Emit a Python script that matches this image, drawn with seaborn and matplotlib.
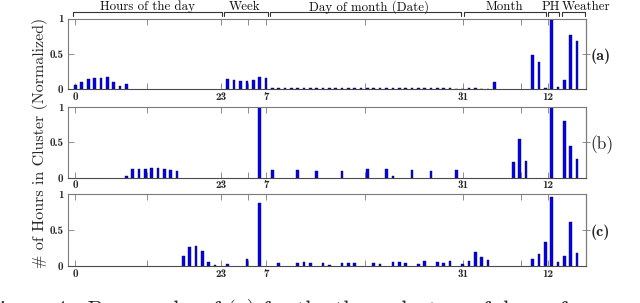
import numpy as np
import pandas as pd
import matplotlib
matplotlib.use("Agg")
import matplotlib.pyplot as plt
import seaborn as sns
from matplotlib.transforms import blended_transform_factory

# ---------------- data (normalized # of hours per feature value) ----------------
groups = ["Hours of the day", "Week", "Day of month (Date)", "Month", "PH", "Weather"]
group_sizes = [24, 7, 31, 12, 2, 4]

hours_a = [0.06, 0.10, 0.145, 0.155, 0.165, 0.17, 0.10, 0.04, 0.075, 0, 0, 0,
           0, 0, 0, 0, 0, 0, 0, 0, 0, 0, 0, 0]
week_a = [0.15, 0.13, 0.12, 0.12, 0.13, 0.17, 0.165]
date_a = [0.015, 0.015, 0.015, 0.015, 0.015, 0.015, 0.015, 0.02, 0.02, 0.015,
          0.02, 0.025, 0.02, 0.02, 0.025, 0.02, 0.02, 0.025, 0.015, 0.02,
          0.02, 0.015, 0.02, 0.015, 0.02, 0.02, 0.015, 0.02, 0.015, 0.005, 0.005]
month_a = [0.015, 0.015, 0.01, 0.008, 0.10, 0, 0, 0, 0, 0, 0.48, 0.39]
ph_a = [0.02, 1.0]
weather_a = [0.03, 0.135, 0.77, 0.68]

hours_b = [0, 0, 0, 0, 0, 0, 0, 0, 0.025, 0.12, 0.12, 0.12,
           0.13, 0.135, 0.12, 0.11, 0.095, 0, 0, 0, 0, 0, 0, 0]
week_b = [0, 0, 0, 0, 0, 1.0, 0]
date_b = [0.11, 0, 0, 0, 0.11, 0, 0, 0.095, 0, 0,
          0, 0.09, 0, 0, 0, 0.12, 0, 0, 0.12, 0.025,
          0, 0, 0.11, 0, 0, 0.09, 0, 0, 0, 0.11, 0]
month_b = [0, 0, 0, 0, 0, 0, 0, 0.225, 0.55, 0.235, 0, 0]
ph_b = [0, 1.0]
weather_b = [0, 0.80, 0.45, 0.26]

hours_c = [0, 0, 0, 0, 0, 0, 0, 0, 0, 0, 0, 0,
           0, 0, 0, 0, 0, 0.14, 0.26, 0.28, 0.215, 0.06, 0.01, 0]
week_c = [0.025, 0, 0, 0.10, 0, 0.87, 0]
date_c = [0, 0.045, 0, 0, 0.045, 0.05, 0.035, 0, 0.035, 0.02,
          0, 0.035, 0.035, 0.035, 0, 0, 0.035, 0.025, 0, 0.055,
          0.05, 0.035, 0, 0.025, 0.065, 0, 0.05, 0.04, 0.065, 0, 0.03]
month_c = [0.065, 0.2, 0.12, 0.085, 0, 0, 0, 0, 0, 0, 0.095, 0.165]
ph_c = [0.33, 0.96]
weather_c = [0.05, 0.145, 0.615, 0.18]

panels = {
    "(a)": [hours_a, week_a, date_a, month_a, ph_a, weather_a],
    "(b)": [hours_b, week_b, date_b, month_b, ph_b, weather_b],
    "(c)": [hours_c, week_c, date_c, month_c, ph_c, weather_c],
}

xtick_labels = ["0", "23", "7", "31", "12"]
ytick_labels = ["0", "0.5", "1"]

# ---------------- figure ----------------
sns.set_theme(style="white")
plt.rcParams["font.family"] = ["cmr10", "DejaVu Serif"]
plt.rcParams["axes.unicode_minus"] = False
plt.rcParams["axes.formatter.use_mathtext"] = True

W, H = 640, 303
fig = plt.figure(figsize=(W / 100, H / 100), dpi=100)

left, right = 68.3 / W, 585.7 / W
panel_px = [(18.5, 89.3), (106.7, 177.7), (194.0, 266.0)]
XLIM = (-1.13, 80.38)
major_ticks = [0, 23, 30, 61, 74.4]
minor_ticks = [11.2, 27.2, 45.6, 70.2]
frame_col = "#7a7a7a"

axes = []
for (name, vals), (top_px, bot_px) in zip(panels.items(), panel_px):
    ax = fig.add_axes([left, 1 - bot_px / H, right - left, (bot_px - top_px) / H])
    values = np.concatenate([np.asarray(v, dtype=float) for v in vals])
    df = pd.DataFrame({"pos": np.arange(len(values)), "value": values})
    df = df[df["value"] > 0]
    sns.barplot(data=df, x="pos", y="value", native_scale=True, width=0.42,
                color="#0000ff", saturation=1, edgecolor="#101010", linewidth=0.3,
                errorbar=None, ax=ax)
    ax.set_xlabel("")
    ax.set_ylabel("")
    ax.set_xlim(*XLIM)
    ax.set_ylim(0, 1)
    ax.set_xticks(major_ticks, labels=xtick_labels, fontfamily="cmb10", fontsize=8)
    ax.set_xticks(minor_ticks, minor=True)
    ax.tick_params(axis="x", which="both", direction="in", top=True, bottom=True,
                   length=4, width=0.6, color=frame_col, pad=2)
    ax.set_yticks([0, 0.5, 1], labels=ytick_labels, fontfamily="cmb10", fontsize=8)
    ax.tick_params(axis="y", direction="in", left=True, right=False,
                   length=4, width=0.6, color=frame_col, pad=3.5)
    for s in ax.spines.values():
        s.set_color(frame_col)
        s.set_linewidth(0.8)
    ax.spines["bottom"].set_color("#4a4a4a")

    sec = ax.secondary_yaxis("right")
    bold = name != "(b)"
    sec.set_yticks([0.5], labels=[name],
                   fontfamily="cmb10" if bold else "cmr10",
                   fontsize=11.5 if bold else 12.5)
    sec.tick_params(direction="inout", length=6, width=0.6, color=frame_col, pad=0.5)
    sec.spines["right"].set_color(frame_col)
    sec.spines["right"].set_linewidth(0.8)
    axes.append(ax)

# ---------------- group brackets on top ----------------
ax0 = axes[0]
tr = blended_transform_factory(ax0.transData, ax0.transAxes)
bracket_spans = [(-0.34, 23.08), (23.4, 30.38), (30.65, 60.78),
                 (61.2, 74.1), (74.5, 76.2), (76.6, 80.2)]
label_x = [11.35, 26.7, 46.2, 67.6, 74.8, 80.5]
y_line, y_hook, y_text = 1.085, 1.035, 1.165
for (x0, x1), lx, g in zip(bracket_spans, label_x, groups):
    ax0.plot([x0, x0, x1, x1], [y_hook, y_line, y_line, y_hook], transform=tr,
             color="#333333", lw=0.8, clip_on=False, solid_joinstyle="round")
    ax0.text(lx, y_text, g, transform=tr, ha="center", va="center",
             fontsize=9.3, family="cmr10", color="#111111")

# ---------------- shared y label ----------------
fig.text(40 / W, 1 - 143 / H, "# of Hours in Cluster (Normalized)", rotation=90,
         ha="center", va="center", fontsize=11.5, family=["cmr10", "DejaVu Serif"])

# ---------------- caption (cut off at bottom, as in the source) ----------------
fig.text(0.0, 1 - 299 / H, "igure 4:  Bar graphs of (a) for the three clusters of days of",
         ha="left", va="top", fontsize=16, family=["cmr10", "DejaVu Serif"])

fig.savefig("out.png", dpi=100)
